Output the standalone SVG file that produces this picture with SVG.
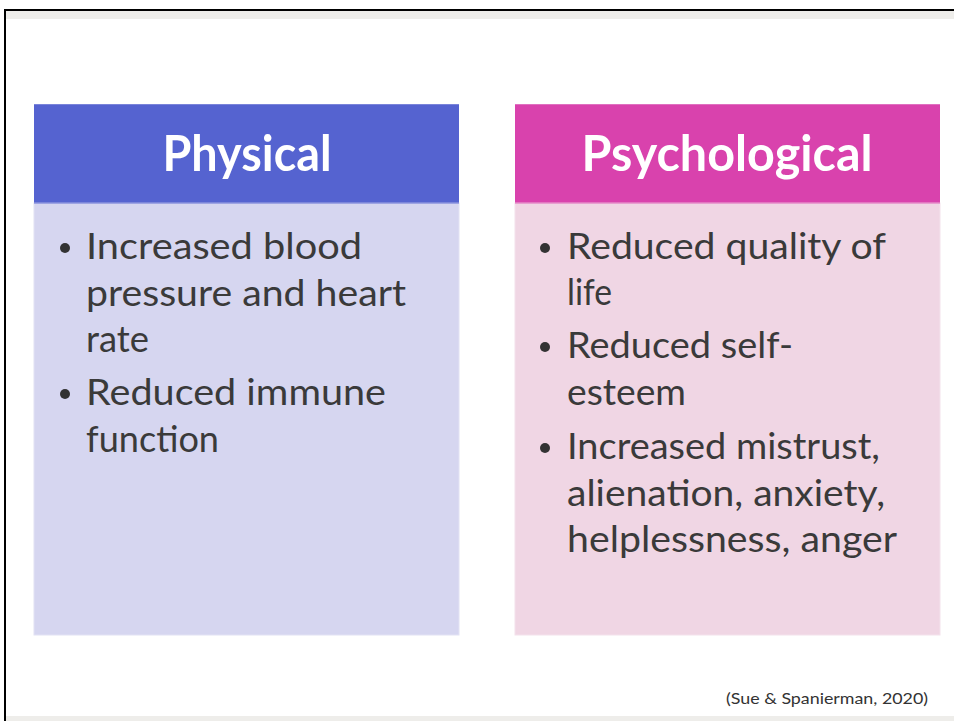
<svg xmlns="http://www.w3.org/2000/svg" width="954" height="721" viewBox="0 0 954 721">
<style>
.title{font-family:Lato,"Liberation Sans",sans-serif;font-weight:bold;font-size:50px;fill:#ffffff;text-anchor:middle}
.body{font-family:Lato,"Liberation Sans",sans-serif;font-size:37px;fill:#3a3a3a}
.cite{font-family:Lato,"Liberation Sans",sans-serif;font-size:15px;fill:#333333}
.dot{fill:#333333}
</style>
<rect x="0" y="0" width="954" height="721" fill="#ffffff"/>
<rect x="5" y="11" width="949" height="8" fill="#eeedea"/>
<rect x="5" y="716" width="949" height="5" fill="#eeedea"/>
<line x1="4" y1="10" x2="954" y2="10" stroke="#000" stroke-width="2"/>
<line x1="5" y1="9" x2="5" y2="721" stroke="#000" stroke-width="2"/>
<g id="physical">
<rect x="34" y="203" width="425" height="432" fill="#d6d6f0" stroke="#e2e2f4" stroke-width="1"/>
<rect x="34" y="104" width="425" height="99" fill="#5563d0"/>
<line x1="34" y1="104.5" x2="459" y2="104.5" stroke="#7a84da" stroke-width="1"/>
<line x1="34" y1="203" x2="459" y2="203" stroke="#8a92de" stroke-width="1.5"/>
<text class="title" x="247" y="171" textLength="169" lengthAdjust="spacingAndGlyphs">Physical</text>
<circle class="dot" cx="65" cy="248" r="5"/>
<circle class="dot" cx="65" cy="394" r="5"/>
<text class="body" x="86" y="259" textLength="276" lengthAdjust="spacingAndGlyphs">Increased blood</text>
<text class="body" x="86" y="306" textLength="320" lengthAdjust="spacingAndGlyphs">pressure and heart</text>
<text class="body" x="86" y="352" textLength="63" lengthAdjust="spacingAndGlyphs">rate</text>
<text class="body" x="86" y="405" textLength="300" lengthAdjust="spacingAndGlyphs">Reduced immune</text>
<text class="body" x="86" y="452" textLength="133" lengthAdjust="spacingAndGlyphs">function</text>
</g>
<g id="psychological">
<rect x="515" y="203" width="425" height="432" fill="#f0d6e4" stroke="#f4e2ec" stroke-width="1"/>
<rect x="515" y="104" width="425" height="99" fill="#d942ad"/>
<line x1="515" y1="104.5" x2="940" y2="104.5" stroke="#e070c0" stroke-width="1"/>
<line x1="515" y1="203" x2="940" y2="203" stroke="#e48ac8" stroke-width="1.5"/>
<text class="title" x="727" y="171" textLength="291" lengthAdjust="spacingAndGlyphs">Psychological</text>
<circle class="dot" cx="545" cy="248" r="5"/>
<circle class="dot" cx="545" cy="347" r="5"/>
<circle class="dot" cx="545" cy="448" r="5"/>
<text class="body" x="567" y="259" textLength="319" lengthAdjust="spacingAndGlyphs">Reduced quality of</text>
<text class="body" x="567" y="305" textLength="45" lengthAdjust="spacingAndGlyphs">life</text>
<text class="body" x="567" y="358" textLength="226" lengthAdjust="spacingAndGlyphs">Reduced self-</text>
<text class="body" x="567" y="405" textLength="119" lengthAdjust="spacingAndGlyphs">esteem</text>
<text class="body" x="567" y="459" textLength="313" lengthAdjust="spacingAndGlyphs">Increased mistrust,</text>
<text class="body" x="567" y="506" textLength="318" lengthAdjust="spacingAndGlyphs">alienation, anxiety,</text>
<text class="body" x="567" y="552" textLength="330" lengthAdjust="spacingAndGlyphs">helplessness, anger</text>
</g>
<g id="connectors"></g>
<text class="cite" x="726" y="704" textLength="202" lengthAdjust="spacingAndGlyphs">(Sue &amp; Spanierman, 2020)</text>
</svg>
